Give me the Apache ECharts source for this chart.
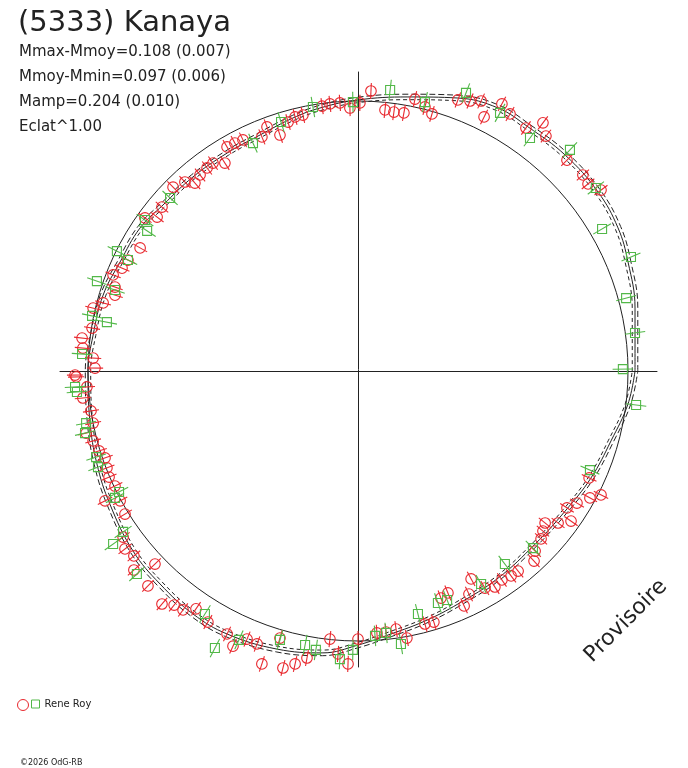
<!DOCTYPE html>
<html>
<head>
<meta charset="utf-8">
<script src="https://cdn.jsdelivr.net/npm/echarts@6/dist/echarts.min.js"></script>
<style>
  html, body { margin: 0; padding: 0; background: #fff; }
  #chart { width: 688px; height: 768px; }
</style>
</head>
<body>
<div id="chart"></div>
<script>
// polar lightcurve, x/y in units of the mean flux circle (r = 1)
var objName = '(5333) Kanaya';
var statLines = ['Mmax-Mmoy=0.108 (0.007)', 'Mmoy-Mmin=0.097 (0.006)', 'Mamp=0.204 (0.010)', 'Eclat^1.00'];
var observer = 'Rene Roy';

// session 1 (red circles)
var circlePts = [
  [-0.030, 0.974], [-0.067, 0.993], [-0.104, 0.989], [-0.133, 0.981], [-0.204, 0.948],
  [-0.233, 0.941], [-0.259, 0.922], [-0.289, 0.874], [-0.337, 0.904], [-0.356, 0.867],
  [-0.426, 0.856], [-0.456, 0.844], [-0.485, 0.830], [-0.493, 0.770], [-0.537, 0.770],
  [-0.559, 0.752], [-0.585, 0.726], [-0.604, 0.696], [-0.641, 0.700], [-0.685, 0.681],
  [-0.726, 0.607], [-0.744, 0.570], [-0.789, 0.567], [-0.807, 0.456], [-0.852, 0.411],
  [-0.874, 0.381], [-0.907, 0.356], [-0.900, 0.311], [-0.900, 0.281], [-0.944, 0.252],
  [-0.981, 0.233], [-0.985, 0.159], [-1.022, 0.122], [-1.019, 0.085], [-0.981, 0.048],
  [-0.974, 0.011], [-1.048, -0.015],
  [0.048, 1.037], [0.007, 0.993], [0.100, 0.967], [0.133, 0.959], [0.170, 0.956],
  [0.211, 1.007], [0.248, 0.978], [0.274, 0.952], [0.370, 1.004], [0.415, 1.000],
  [0.456, 1.000], [0.467, 0.941], [0.533, 0.989], [0.563, 0.952], [0.622, 0.900],
  [0.685, 0.919], [0.696, 0.870], [0.774, 0.781], [0.833, 0.726], [0.852, 0.693],
  [0.900, 0.670],
  [-1.044, -0.022], [-1.004, -0.059], [-1.019, -0.100], [-0.989, -0.148], [-0.981, -0.193],
  [-1.007, -0.230], [-0.981, -0.259], [-0.959, -0.296], [-0.937, -0.322], [-0.930, -0.359],
  [-0.922, -0.393], [-0.900, -0.426], [-0.937, -0.481], [-0.881, -0.481], [-0.863, -0.530],
  [-0.870, -0.615], [-0.863, -0.659], [-0.830, -0.685], [-0.830, -0.737], [-0.752, -0.715],
  [-0.778, -0.796], [-0.726, -0.863], [-0.681, -0.867], [-0.648, -0.885], [-0.600, -0.881],
  [-0.556, -0.930], [-0.485, -0.974], [-0.463, -1.019], [-0.411, -0.993], [-0.374, -1.011],
  [-0.289, -0.989], [-0.356, -1.085], [-0.278, -1.100], [-0.233, -1.085], [-0.189, -1.063],
  [-0.104, -0.993], [-0.074, -1.048], [-0.037, -1.085], [0.000, -0.993],
  [0.070, -0.970], [0.104, -0.967], [0.141, -0.956], [0.181, -0.989], [0.248, -0.937],
  [0.281, -0.930], [0.307, -0.841], [0.333, -0.822], [0.393, -0.870], [0.411, -0.826],
  [0.419, -0.770], [0.470, -0.804], [0.507, -0.800], [0.533, -0.774], [0.567, -0.759],
  [0.593, -0.741], [0.652, -0.704], [0.656, -0.667], [0.678, -0.622], [0.685, -0.593],
  [0.693, -0.563], [0.741, -0.563], [0.789, -0.556], [0.774, -0.507], [0.811, -0.489],
  [0.859, -0.470], [0.900, -0.459], [0.856, -0.396]
];

// session 2 (green squares)
var squarePts = [
  [-0.019, 0.996], [-0.167, 0.978], [-0.285, 0.922], [-0.389, 0.844], [-0.696, 0.641],
  [-0.789, 0.559], [-0.781, 0.519], [-0.893, 0.444], [-0.852, 0.411], [-0.967, 0.333],
  [-0.900, 0.300], [-0.985, 0.204], [-0.930, 0.181], [-1.022, 0.063],
  [0.119, 1.041], [0.248, 0.996], [0.400, 1.030], [0.526, 0.956], [0.637, 0.863],
  [0.785, 0.819], [0.881, 0.678], [0.904, 0.526], [1.011, 0.422], [0.993, 0.270],
  [1.026, 0.141], [0.981, 0.007], [1.030, -0.126],
  [-1.048, -0.059], [-1.041, -0.078], [-1.007, -0.193], [-1.011, -0.230], [-0.970, -0.319],
  [-0.963, -0.356], [-0.885, -0.448], [-0.900, -0.470], [-0.870, -0.596], [-0.907, -0.641],
  [-0.819, -0.752], [-0.567, -0.900], [-0.530, -1.026], [-0.441, -0.996], [-0.289, -0.996],
  [-0.196, -1.015], [-0.156, -1.033], [-0.067, -1.067], [-0.019, -1.033],
  [0.063, -0.981], [0.104, -0.970], [0.159, -1.011], [0.222, -0.900], [0.296, -0.859],
  [0.330, -0.848], [0.456, -0.789], [0.544, -0.715], [0.648, -0.656], [0.859, -0.367]
];

// fitted curve, read counter-clockwise from phase 0
var fitPts = [
  [1.026, 0.000], [1.026, 0.233], [1.000, 0.404], [0.963, 0.530], [0.889, 0.663],
  [0.767, 0.800], [0.630, 0.904], [0.519, 0.974], [0.370, 1.011], [0.185, 1.015],
  [0.000, 1.004], [-0.141, 0.974], [-0.241, 0.937], [-0.363, 0.874], [-0.485, 0.807],
  [-0.611, 0.719], [-0.722, 0.615], [-0.807, 0.530], [-0.881, 0.404], [-0.944, 0.281],
  [-0.981, 0.133], [-1.000, 0.000], [-0.993, -0.185], [-0.967, -0.344], [-0.919, -0.493],
  [-0.833, -0.667], [-0.733, -0.789], [-0.611, -0.900], [-0.485, -0.974], [-0.300, -1.030],
  [-0.130, -1.044], [0.000, -1.015], [0.122, -0.974], [0.248, -0.926], [0.370, -0.863],
  [0.519, -0.767], [0.656, -0.641], [0.767, -0.519], [0.863, -0.396], [0.937, -0.259],
  [1.000, -0.122], [1.026, 0.000]
];
var fitSigma = 0.01;
var refCircle = [[0, 0, 1]];
var circleErr = 0.03, squareErr = 0.038;

var red = '#e8282e', green = '#52b848', ink = '#222';

var fitUpper = fitPts.map(function (p) { return [p[0] * (1 + fitSigma), p[1] * (1 + fitSigma)]; });
var fitLower = fitPts.map(function (p) { return [p[0] * (1 - fitSigma), p[1] * (1 - fitSigma)]; });

function markRender(kind, halfErr) {
  return function (params, api) {
    var x = api.value(0), y = api.value(1);
    var len = Math.sqrt(x * x + y * y) || 1;
    var ux = x / len, uy = y / len;
    var p = api.coord([x, y]);
    var a = api.coord([x - ux * halfErr, y - uy * halfErr]);
    var b = api.coord([x + ux * halfErr, y + uy * halfErr]);
    var col = api.visual('color');
    var mark = kind === 'circle'
      ? { type: 'circle', shape: { cx: p[0], cy: p[1], r: 5.3 }, style: { fill: 'none', stroke: col, lineWidth: 1.1 } }
      : { type: 'rect', shape: { x: p[0] - 4.5, y: p[1] - 4.5, width: 9, height: 9 }, style: { fill: 'none', stroke: col, lineWidth: 1.1 } };
    return {
      type: 'group',
      children: [mark, { type: 'line', shape: { x1: a[0], y1: a[1], x2: b[0], y2: b[1] }, style: { stroke: col, lineWidth: 1.1 } }]
    };
  };
}

function fitLine(data, type) {
  return {
    type: 'line', data: data, smooth: 0.4, symbol: 'none', silent: true,
    lineStyle: { color: ink, width: 1, type: type }, z: 1
  };
}

var chart = echarts.init(document.getElementById('chart'), null, { renderer: 'canvas' });
var font = 'DejaVu Sans';
chart.setOption({
  animation: false,
  backgroundColor: '#fff',
  title: [
    { text: objName, left: 18, top: 9, padding: 0,
      textStyle: { fontFamily: font, fontSize: 29, fontWeight: 'normal', color: ink } },
    { text: statLines.join('\n'), left: 19, top: 40, padding: 0,
      textStyle: { fontFamily: font, fontSize: 15, lineHeight: 25, fontWeight: 'normal', color: ink } }
  ],
  legend: [
    { left: 17, top: 699, padding: 0, itemWidth: 11, itemHeight: 11, selectedMode: false,
      formatter: function () { return ''; },
      data: [{ name: observer, icon: 'circle', itemStyle: { color: 'transparent', borderColor: red, borderWidth: 1 } }] },
    { left: 31, top: 699, padding: 0, itemWidth: 8, itemHeight: 8, itemGap: 4, selectedMode: false,
      textStyle: { fontFamily: font, fontSize: 10, color: ink },
      data: [{ name: observer, icon: 'rect', itemStyle: { color: 'transparent', borderColor: green, borderWidth: 1 } }] }
  ],
  grid: { left: 60, right: 31, top: 72, bottom: 101 },
  xAxis: {
    type: 'value', min: -1.1037, max: 1.1074,
    axisLine: { onZero: true, lineStyle: { color: ink, width: 1 } },
    axisTick: { show: false }, axisLabel: { show: false }, splitLine: { show: false }
  },
  yAxis: {
    type: 'value', min: -1.0963, max: 1.1074,
    axisLine: { onZero: true, lineStyle: { color: ink, width: 1 } },
    axisTick: { show: false }, axisLabel: { show: false }, splitLine: { show: false }
  },
  graphic: [
    { type: 'text', x: 626, y: 621, rotation: Math.PI / 4,
      style: { text: 'Provisoire', font: '22px "DejaVu Sans"', fill: ink, align: 'center', verticalAlign: 'middle' } },
    { type: 'text', x: 20, y: 763,
      style: { text: '©2026 OdG-RB', font: '8px "DejaVu Sans"', fill: ink, align: 'left', verticalAlign: 'middle' } }
  ],
  series: [
    {
      type: 'custom', name: 'ref', data: refCircle, silent: true, z: 1,
      renderItem: function (params, api) {
        var c = api.coord([api.value(0), api.value(1)]);
        var r = api.size([api.value(2), 0])[0];
        return { type: 'circle', shape: { cx: c[0], cy: c[1], r: r }, style: { fill: 'none', stroke: ink, lineWidth: 1 } };
      }
    },
    fitLine(fitPts, 'solid'),
    fitLine(fitUpper, [6, 3]),
    fitLine(fitLower, [4, 3]),
    { type: 'custom', name: observer, data: circlePts, itemStyle: { color: red }, z: 3,
      renderItem: markRender('circle', circleErr) },
    { type: 'custom', name: observer, data: squarePts, itemStyle: { color: green }, z: 3,
      renderItem: markRender('square', squareErr) }
  ]
});
</script>
</body>
</html>
